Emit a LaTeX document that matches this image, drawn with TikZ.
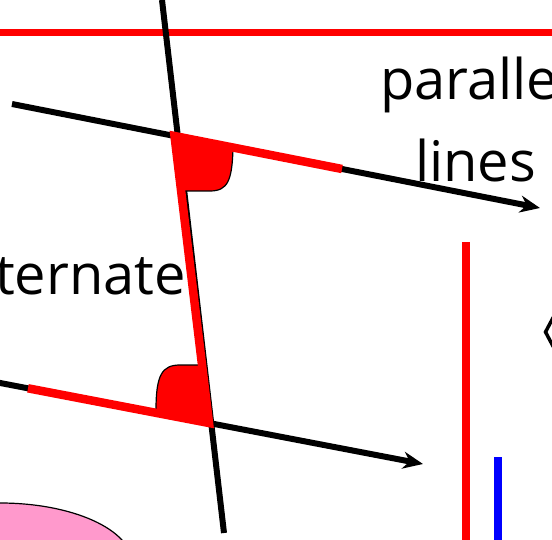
\documentclass[tikz,border=0pt]{standalone}
\usepackage{fontspec}
\setsansfont{Open Sans}
\usetikzlibrary{arrows.meta}
\definecolor{pinkfill}{HTML}{FF99CC}

\begin{document}
\begin{tikzpicture}[x=1pt,y=-1pt,>={Stealth[length=20pt,width=17pt]},
  word/.style={font=\sffamily\fontsize{56}{56}\selectfont,inner sep=0pt}]
  \useasboundingbox (0,0) rectangle (552,540);
  \clip (0,0) rectangle (552,540);
  \coordinate (P) at (174.5,136);
  \coordinate (Q) at (209,423);
  \filldraw[fill=pinkfill,line width=1.2pt] (0,563) ellipse [x radius=132,y radius=60];
  \draw[red,line width=7pt] (0,32.5)--(552,32.5);
  \draw[line width=6pt] (162,0)--(224,533);
  \draw[line width=6pt,->] (12,104)--(540,208);
  \draw[line width=6pt,->] (-5,382)--(423,464);
  % the two angles
  \fill[red] (P)--(233,147.5) .. controls (232,180) and (228,191) .. (210,191)--(182,191)--cycle;
  \fill[red] (Q)--(156,412) .. controls (156,375) and (162,365) .. (180,365)--(202,365)--cycle;
  \draw[line width=1.2pt] (233,149) .. controls (232,180) and (228,191) .. (210,191)--(184,191);
  \draw[line width=1.2pt] (156,410) .. controls (156,375) and (162,365) .. (180,365)--(200,365);
  \draw[red,line width=8.5pt,line join=miter] (342,169)--(P)--(Q)--(28,388.3);
  \node[word,anchor=base west] (par) at (380,100) {parallel};
  \node[word,anchor=base west] (lin) at (415,182) {lines};
  \node[word,anchor=base east] (alt) at (186,295) {alternate};
  \draw[red,line width=8pt] (466,242)--(466,545);
  \draw[blue,line width=8pt] (498,457)--(498,545);
  \draw[line width=3.5pt,line join=miter] (562,301)--(545.5,332)--(562,363);
\end{tikzpicture}
\end{document}
